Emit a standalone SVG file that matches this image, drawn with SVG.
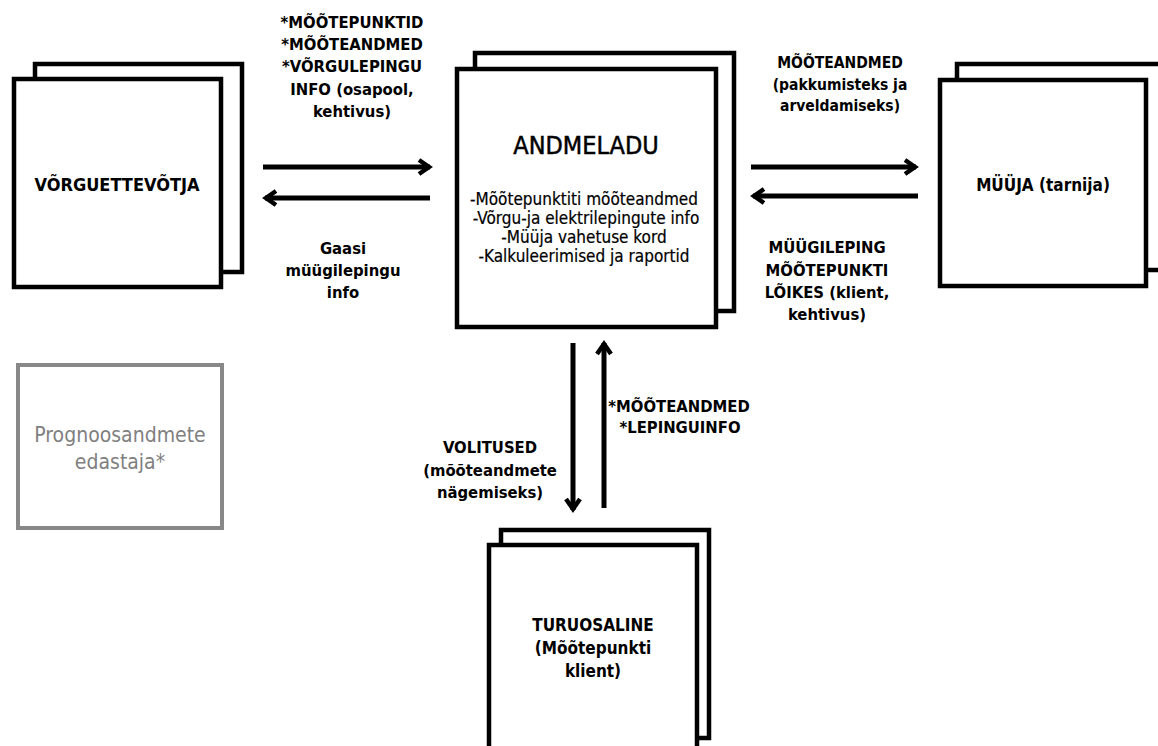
<svg xmlns="http://www.w3.org/2000/svg" width="1158" height="746" viewBox="0 0 1158 746">
<style>
.box{fill:#fff;stroke:#000;stroke-width:4.5}
.gbox{fill:#fff;stroke:#888;stroke-width:4}
.c{fill:none;stroke:#000;stroke-width:5}
text{font-family:"DejaVu Sans Condensed","DejaVu Sans",sans-serif;text-anchor:middle;fill:#000}
.b{font-weight:bold;font-size:16.5px}
.rb{font-weight:bold;font-size:15.5px}
.body{font-size:17px;stroke:#000;stroke-width:0.2}
.title{font-size:25px;stroke:#000;stroke-width:0.5}
.gray{font-size:21px;fill:#808080}
</style>
<defs>
<marker id="ah" markerUnits="userSpaceOnUse" markerWidth="24" markerHeight="24" viewBox="-14 -12 24 24" refX="0" refY="0" orient="auto">
<path d="M-11,-7 L-1,0 L-11,7" fill="none" stroke="#000" stroke-width="4.5"/>
</marker>
</defs>
<rect width="1158" height="746" fill="#fff"/>

<g id="vorguettevotja">
<rect class="box" x="35" y="64" width="207" height="208"/>
<rect class="box" x="14" y="79" width="207" height="208"/>
<text class="b" x="117" y="191" style="font-size:18px">VÕRGUETTEVÕTJA</text>
</g>

<g id="andmeladu">
<rect class="box" x="475" y="53" width="259" height="258"/>
<rect class="box" x="457" y="69" width="259" height="258"/>
<text class="title" x="586" y="154">ANDMELADU</text>
<text class="body" x="584" y="205">-Mõõtepunktiti mõõteandmed</text>
<text class="body" x="586" y="224">-Võrgu-ja elektrilepingute info</text>
<text class="body" x="584" y="243">-Müüja vahetuse kord</text>
<text class="body" x="584" y="262">-Kalkuleerimised ja raportid</text>
</g>

<g id="myyja">
<rect class="box" x="957" y="64" width="206" height="206"/>
<rect class="box" x="940" y="80" width="206" height="206"/>
<text class="b" x="1043" y="191" style="font-size:17px">MÜÜJA (tarnija)</text>
</g>

<g id="turuosaline">
<rect class="box" x="501" y="530" width="208" height="208"/>
<rect class="box" x="489" y="545" width="208" height="230"/>
<text class="b" x="593" y="631" style="font-size:17px">TURUOSALINE</text>
<text class="b" x="593" y="654" style="font-size:17px">(Mõõtepunkti</text>
<text class="b" x="593" y="677" style="font-size:17px">klient)</text>
</g>

<g id="prognoos">
<rect class="gbox" x="18" y="365" width="204" height="163"/>
<text class="gray" x="120" y="442">Prognoosandmete</text>
<text class="gray" x="120" y="469">edastaja*</text>
</g>

<g id="connectors">
<line class="c" x1="263" y1="167" x2="430" y2="167" marker-end="url(#ah)"/>
<line class="c" x1="430" y1="198" x2="265" y2="198" marker-end="url(#ah)"/>
<line class="c" x1="751" y1="167" x2="916" y2="167" marker-end="url(#ah)"/>
<line class="c" x1="918" y1="196" x2="753" y2="196" marker-end="url(#ah)"/>
<line class="c" x1="573" y1="343" x2="573" y2="510" marker-end="url(#ah)"/>
<line class="c" x1="604" y1="508" x2="604" y2="343" marker-end="url(#ah)"/>
</g>

<g id="labels">
<text class="b" x="352" y="28">*MÕÕTEPUNKTID</text>
<text class="b" x="352" y="50">*MÕÕTEANDMED</text>
<text class="b" x="352" y="72">*VÕRGULEPINGU</text>
<text class="b" x="352" y="95">INFO (osapool,</text>
<text class="b" x="352" y="117">kehtivus)</text>
<text class="b" x="343" y="254">Gaasi</text>
<text class="b" x="343" y="276">müügilepingu</text>
<text class="b" x="343" y="298">info</text>
<text class="rb" x="840" y="68">MÕÕTEANDMED</text>
<text class="rb" x="840" y="90">(pakkumisteks ja</text>
<text class="rb" x="840" y="111">arveldamiseks)</text>
<text class="b" x="827" y="253">MÜÜGILEPING</text>
<text class="b" x="827" y="276">MÕÕTEPUNKTI</text>
<text class="b" x="827" y="298">LÕIKES (klient,</text>
<text class="b" x="827" y="320">kehtivus)</text>
<text class="b" x="679" y="412">*MÕÕTEANDMED</text>
<text class="b" x="680" y="433">*LEPINGUINFO</text>
<text class="b" x="490" y="453">VOLITUSED</text>
<text class="b" x="490" y="476">(mõõteandmete</text>
<text class="b" x="490" y="498">nägemiseks)</text>
</g>
</svg>
